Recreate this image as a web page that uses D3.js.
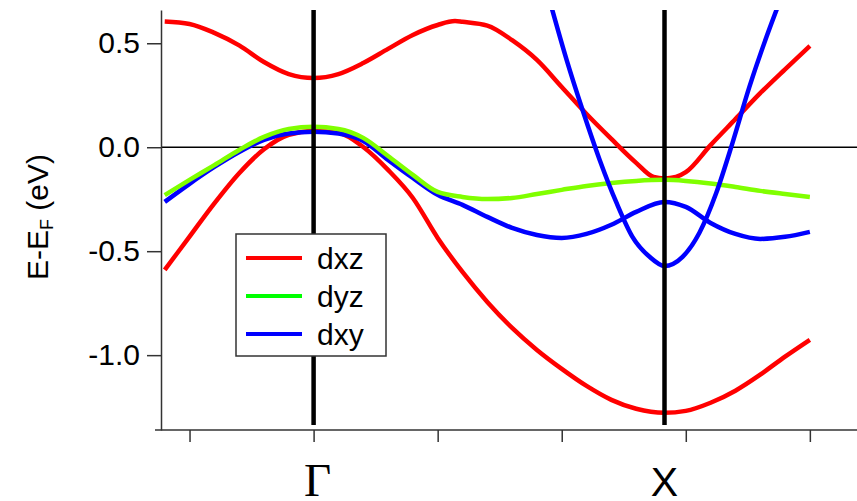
<!DOCTYPE html>
<html>
<head>
<meta charset="utf-8">
<script src="https://cdn.jsdelivr.net/npm/d3@7"></script>
<style>
  html, body { margin: 0; padding: 0; background: #fff; }
  svg { display: block; }
</style>
</head>
<body>
<svg id="chart" width="857" height="501"></svg>
<script>
// Momentum grid (along Γ–X, X at √2) shared by the smooth bands
const kGrid = [-0.6, -0.5, -0.4, -0.3, -0.2, -0.1, 0, 0.1, 0.2, 0.3, 0.4, 0.5, 0.6, 0.7,
               0.8, 0.9, 1.0, 1.1, 1.2, 1.3, 1.414, 1.5, 1.6, 1.7, 1.8, 1.9, 2.0];

// dxz: upper band (with a kink at X) — sampled on its own grid
const dxzUpperK = [-0.6, -0.5, -0.4, -0.3, -0.2, -0.1, 0, 0.1, 0.2, 0.3, 0.4, 0.5, 0.57, 0.6, 0.7,
                   0.8, 0.9, 1.0, 1.1, 1.2, 1.3, 1.37, 1.414, 1.46, 1.5, 1.6, 1.7, 1.8, 1.9, 2.0];
const dxzUpperE = [0.605, 0.593, 0.55, 0.49, 0.41, 0.352, 0.333, 0.352, 0.405, 0.473, 0.54, 0.588, 0.607, 0.603, 0.585,
                   0.515, 0.42, 0.29, 0.16, 0.04, -0.075, -0.143, -0.15, -0.143, -0.12, 0.01, 0.135, 0.26, 0.375, 0.487];

// dxz: lower band on kGrid
const dxzLowerE = [-0.59, -0.43, -0.27, -0.125, -0.01, 0.06, 0.078, 0.069, 0.001, -0.109, -0.244, -0.436, -0.6, -0.744,
                   -0.869, -0.975, -1.066, -1.148, -1.215, -1.258, -1.277, -1.268, -1.229, -1.171, -1.094, -1.007, -0.926];

// dyz on kGrid
const dyzE = [-0.23, -0.157, -0.086, -0.013, 0.05, 0.088, 0.098, 0.088, 0.045, -0.042, -0.133, -0.215, -0.239, -0.249,
              -0.244, -0.225, -0.205, -0.186, -0.172, -0.162, -0.157, -0.162, -0.174, -0.191, -0.21, -0.225, -0.239];

// dxy: band through Γ on kGrid
const dxyE = [-0.263, -0.176, -0.095, -0.023, 0.035, 0.066, 0.074, 0.066, 0.03, -0.061, -0.148, -0.229, -0.277, -0.335,
              -0.388, -0.422, -0.436, -0.417, -0.373, -0.311, -0.263, -0.287, -0.364, -0.417, -0.441, -0.431, -0.407];

// dxy: steep electron pocket centred at X
const dxyPocketK = [0.955, 1.02, 1.084, 1.153, 1.221, 1.285, 1.354, 1.414, 1.487, 1.555, 1.623, 1.688, 1.756, 1.825, 1.875];
const dxyPocketE = [0.69, 0.419, 0.179, -0.061, -0.268, -0.431, -0.527, -0.571, -0.527, -0.411, -0.219, 0.02, 0.289, 0.53, 0.69];

// High-symmetry points and axis ticks
const symK = [0, Math.SQRT2];
const symLabels = ["Γ", "X"];
const xTicks = [-0.5, 0, 0.5, 1.0, 1.5, 2.0];
const yTicks = [0.5, 0.0, -0.5, -1.0];

const seriesNames = ["dxz", "dyz", "dxy"];
const seriesColors = ["#ff0000", "#80ff00", "#0000ff"];
const legendColors = ["#ff0000", "#00ff00", "#0000ff"];

// ---- layout ----
const svg = d3.select("#chart");
const plotL = 161, plotR = 857, plotT = 10, plotB = 430;

const x = d3.scaleLinear().domain([-0.615, 2.19]).range([plotL, plotR]);
const y = d3.scaleLinear().domain([-1.36, 0.66]).range([plotB, plotT]);

svg.append("defs").append("clipPath").attr("id", "plot-clip")
  .append("rect").attr("x", plotL).attr("y", plotT)
  .attr("width", plotR - plotL).attr("height", plotB - plotT);

const plot = svg.append("g").attr("clip-path", "url(#plot-clip)");

// Fermi level
plot.append("line")
  .attr("x1", plotL).attr("x2", plotR)
  .attr("y1", y(0)).attr("y2", y(0))
  .attr("stroke", "#000").attr("stroke-width", 1.3);

const line = d3.line()
  .x(d => x(d[0]))
  .y(d => y(d[1]))
  .curve(d3.curveMonotoneX);

const bands = [
  { color: seriesColors[0], pts: d3.zip(dxzUpperK, dxzUpperE) },
  { color: seriesColors[0], pts: d3.zip(kGrid, dxzLowerE) },
  { color: seriesColors[2], pts: d3.zip(kGrid, dxyE) },
  { color: seriesColors[1], pts: d3.zip(kGrid, dyzE) },
  { color: seriesColors[2], pts: d3.zip(dxyPocketK, dxyPocketE) }
];

plot.selectAll("path.band").data(bands).join("path")
  .attr("class", "band")
  .attr("d", d => line(d.pts))
  .attr("fill", "none")
  .attr("stroke", d => d.color)
  .attr("stroke-width", 4.5)
  .attr("stroke-linejoin", "round");

// High-symmetry vertical markers
svg.selectAll("line.sym").data(symK).join("line")
  .attr("class", "sym")
  .attr("x1", d => x(d)).attr("x2", d => x(d))
  .attr("y1", plotT).attr("y2", plotB - 5)
  .attr("stroke", "#000").attr("stroke-width", 4.5);

// Axes
const yAxis = d3.axisLeft(y).tickValues(yTicks).tickFormat(d3.format(".1f"))
  .tickSizeInner(14).tickSizeOuter(0).tickPadding(7);
const gy = svg.append("g").attr("transform", `translate(${plotL},0)`).call(yAxis);
gy.select(".domain").attr("stroke", "#333").attr("stroke-width", 1.5);
gy.selectAll(".tick line").attr("stroke", "#333").attr("stroke-width", 1.5);
gy.selectAll(".tick text")
  .attr("font-family", "Liberation Sans, Arial, sans-serif")
  .attr("font-size", 30).attr("fill", "#000")
  .text(d => d3.format(".1f")(d).replace("−", "-"));

const xAxis = d3.axisBottom(x).tickValues(xTicks).tickFormat("")
  .tickSizeInner(12).tickSizeOuter(0);
const gx = svg.append("g").attr("transform", `translate(0,${plotB})`).call(xAxis);
gx.select(".domain").attr("stroke", "#333").attr("stroke-width", 1.5)
  .attr("d", `M${plotL - 6},0H${plotR}`);
gx.selectAll(".tick line").attr("stroke", "#333").attr("stroke-width", 1.5);

// Symmetry point labels
svg.selectAll("text.sym").data(symK).join("text")
  .attr("class", "sym")
  .attr("x", (d, i) => x(d) + (i === 0 ? 4 : 0))
  .attr("y", 496)
  .attr("text-anchor", "middle")
  .attr("font-family", (d, i) => i === 0 ? "Liberation Serif, Times New Roman, serif" : "Liberation Sans, Arial, sans-serif")
  .attr("font-size", (d, i) => i === 0 ? 47 : 41)
  .attr("fill", "#000")
  .text((d, i) => symLabels[i]);

// Y axis title: E-E_F (eV)
const yTitle = svg.append("text")
  .attr("transform", "translate(48,217) rotate(-90)")
  .attr("text-anchor", "middle")
  .attr("font-family", "Liberation Sans, Arial, sans-serif")
  .attr("font-size", 30)
  .attr("fill", "#000");
yTitle.append("tspan").text("E-E");
yTitle.append("tspan").attr("font-size", 18).attr("dy", 5).text("F");
yTitle.append("tspan").attr("dy", -5).text(" (eV)");

// Legend
const legend = svg.append("g").attr("transform", "translate(236,234)");
legend.append("rect")
  .attr("width", 150).attr("height", 122)
  .attr("fill", "#fff").attr("stroke", "#333").attr("stroke-width", 1.5);
const items = legend.selectAll("g.item").data(seriesNames).join("g")
  .attr("class", "item")
  .attr("transform", (d, i) => `translate(0,${24 + i * 38})`);
items.append("line")
  .attr("x1", 10).attr("x2", 66)
  .attr("stroke", (d, i) => legendColors[i]).attr("stroke-width", 4);
items.append("text")
  .attr("x", 81).attr("dy", "0.35em")
  .attr("font-family", "Liberation Sans, Arial, sans-serif")
  .attr("font-size", 30).attr("fill", "#000")
  .text(d => d);
</script>
</body>
</html>
